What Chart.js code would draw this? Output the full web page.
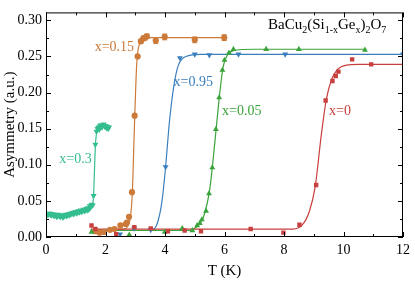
<!DOCTYPE html>
<html>
<head>
<meta charset="utf-8">
<script src="https://cdn.jsdelivr.net/npm/chart.js@4.4.0/dist/chart.umd.min.js"></script>
<style>
    html, body { margin: 0; padding: 0; background: #fff; }
    #wrap { width: 415px; height: 286px; }
</style>
</head>
<body>
<div id="wrap"><canvas id="chart"></canvas></div>
<script>
// data
const xTicks = [0, 2, 4, 6, 8, 10, 12];
const yTicks = [0, 0.05, 0.10, 0.15, 0.20, 0.25, 0.30];

const red0 = [[1.53, 0.016], [1.66, 0.011], [2.36, 0.004], [2.97, 0.0136], [3.52, 0.012], [4.1, 0.008], [4.66, 0.009], [5.21, 0.008], [6.88, 0.011], [7.98, 0.006], [8.52, 0.017], [9.08, 0.072], [9.4, 0.189], [9.63, 0.216], [9.74, 0.223], [9.83, 0.229], [10.29, 0.246], [10.93, 0.239]];
const red0Fit = [[1.5, 0.011], [8.3, 0.011], [8.6, 0.016], [8.85, 0.035], [9.05, 0.07], [9.25, 0.14], [9.42, 0.19], [9.6, 0.218], [9.8, 0.232], [10.1, 0.238], [10.5, 0.239], [12, 0.239]];

const green005 = [[1.53, 0.007], [2.8, 0.003], [3.99, 0.007], [4.58, 0.012], [4.92, 0.009], [5.08, 0.016], [5.17, 0.019], [5.24, 0.024], [5.38, 0.036], [5.48, 0.060], [5.59, 0.096], [5.71, 0.149], [5.82, 0.193], [5.93, 0.231], [6.0, 0.245], [6.15, 0.255], [6.3, 0.260], [7.4, 0.260], [8.5, 0.260], [10.72, 0.259]];
const green005Fit = [[1.5, 0.009], [4.8, 0.009], [5.0, 0.012], [5.2, 0.02], [5.35, 0.035], [5.5, 0.065], [5.6, 0.1], [5.72, 0.15], [5.83, 0.195], [5.95, 0.235], [6.1, 0.252], [6.3, 0.258], [7, 0.26], [10.72, 0.26]];

const orange015 = [[1.65, 0.008], [1.8, 0.006], [1.95, 0.007], [2.15, 0.010], [2.3, 0.011], [2.5, 0.016], [2.68, 0.018], [2.72, 0.020], [2.79, 0.028], [2.89, 0.062], [2.98, 0.168], [3.08, 0.250], [3.19, 0.271], [3.27, 0.275], [3.33, 0.276], [3.39, 0.278], [3.69, 0.272], [3.99, 0.277], [5.0, 0.273], [5.99, 0.276]];
const orange015Err = [0, 0, 0, 0, 0, 0, 0, 0, 0, 0, 0, 0, 0.003, 0.003, 0.003, 0.003, 0.004, 0.004, 0.004, 0.004];
const orange015Fit = [[1.6, 0.01], [2.6, 0.011], [2.8, 0.02], [2.9, 0.06], [2.97, 0.15], [3.05, 0.24], [3.15, 0.268], [3.3, 0.275], [3.6, 0.276], [6.0, 0.276]];

const blue095 = [[2.0, 0.008], [2.49, 0.004], [2.96, 0.012], [3.52, 0.010], [4.02, 0.097], [4.5, 0.248], [5.0, 0.253], [5.49, 0.252], [6.47, 0.253], [8.04, 0.253], [12.0, 0.253]];
const blue095Fit = [[1.95, 0.009], [3.55, 0.009], [3.75, 0.02], [3.9, 0.05], [4.02, 0.097], [4.15, 0.16], [4.3, 0.21], [4.45, 0.238], [4.7, 0.25], [5.2, 0.253], [12, 0.253]];

const teal03 = [[0.00, 0.031], [0.03, 0.030], [0.06, 0.032], [0.09, 0.031], [0.12, 0.033], [0.15, 0.031], [0.18, 0.030], [0.21, 0.032], [0.24, 0.031], [0.27, 0.029], [0.30, 0.031], [0.33, 0.030], [0.36, 0.028], [0.39, 0.029], [0.42, 0.031], [0.45, 0.029], [0.48, 0.028], [0.51, 0.030], [0.54, 0.029], [0.57, 0.027], [0.60, 0.030], [0.63, 0.029], [0.66, 0.031], [0.69, 0.029], [0.72, 0.030], [0.75, 0.032], [0.78, 0.030], [0.81, 0.031], [0.84, 0.033], [0.87, 0.032], [0.90, 0.034], [0.93, 0.032], [0.96, 0.033], [0.99, 0.035], [1.02, 0.033], [1.05, 0.034], [1.08, 0.036], [1.11, 0.034], [1.14, 0.035], [1.17, 0.037], [1.20, 0.035], [1.23, 0.036], [1.26, 0.038], [1.29, 0.036], [1.32, 0.037], [1.35, 0.039], [1.38, 0.037], [1.41, 0.040], [1.44, 0.038], [1.47, 0.043], [1.50, 0.041], [1.53, 0.045], [1.57, 0.044], [1.60, 0.057], [1.66, 0.128], [1.70, 0.146], [1.73, 0.150], [1.76, 0.152], [1.79, 0.149], [1.82, 0.154], [1.85, 0.155], [1.88, 0.152], [1.91, 0.154], [1.94, 0.156], [1.97, 0.153], [2.00, 0.154], [2.03, 0.151], [2.06, 0.153], [2.09, 0.150], [2.12, 0.152]];

const seriesLabels = ['x=0', 'x=0.05', 'x=0.15', 'x=0.95', 'x=0.3'];
const labelPos = [[9.88, 0.174], [6.58, 0.174], [2.3, 0.263], [4.95, 0.2145], [0.99, 0.107]];

const RED = '#c7403d';
const GREEN = '#3aa33a';
const ORANGE = '#cc7a3a';
const BLUE = '#3a7fbd';
const TEAL = '#35bd8e';
const labelColors = [RED, GREEN, ORANGE, BLUE, TEAL];

const SERIF = "'Liberation Serif', 'Times New Roman', serif";

const toXY = arr => arr.map(p => ({x: p[0], y: p[1]}));

const pointSet = (data, color, style, radius, flip) => ({
    data: toXY(data),
    showLine: false,
    pointStyle: style,
    pointRadius: radius,
    pointRotation: flip ? 180 : 0,
    backgroundColor: color,
    borderColor: color,
    borderWidth: 0,
    order: 1
});

const fitSet = (data, color) => ({
    data: toXY(data),
    showLine: true,
    pointRadius: 0,
    borderColor: color,
    borderWidth: 1.2,
    cubicInterpolationMode: 'monotone',
    order: 2
});

// error bars + frame with inward ticks + title + labels
const decorPlugin = {
    id: 'decorPlugin',
    afterDatasetsDraw(chart) {
        const ctx = chart.ctx;
        const xs = chart.scales.x;
        const ys = chart.scales.y;
        ctx.save();
        ctx.strokeStyle = ORANGE;
        ctx.lineWidth = 1;
        orange015.forEach((p, i) => {
            const e = orange015Err[i];
            if (!e) return;
            const px = xs.getPixelForValue(p[0]);
            const top = ys.getPixelForValue(p[1] + e);
            const bot = ys.getPixelForValue(p[1] - e);
            ctx.beginPath();
            ctx.moveTo(px, top); ctx.lineTo(px, bot);
            ctx.moveTo(px - 2.5, top); ctx.lineTo(px + 2.5, top);
            ctx.moveTo(px - 2.5, bot); ctx.lineTo(px + 2.5, bot);
            ctx.stroke();
        });
        ctx.restore();
    },
    afterDraw(chart) {
        const ctx = chart.ctx;
        const a = chart.chartArea;
        const xs = chart.scales.x;
        const ys = chart.scales.y;
        ctx.save();
        ctx.strokeStyle = '#000';
        ctx.lineWidth = 1;
        ctx.strokeRect(a.left + 0.5, a.top + 0.5, a.right - a.left - 1, a.bottom - a.top - 1);

        ctx.beginPath();
        for (let v = 0; v <= 12; v += 1) {
            const px = Math.round(xs.getPixelForValue(v)) + 0.5;
            const len = v % 2 === 0 ? 5 : 3;
            ctx.moveTo(px, a.bottom); ctx.lineTo(px, a.bottom - len);
            ctx.moveTo(px, a.top); ctx.lineTo(px, a.top + len);
        }
        for (let k = 0; k <= 12; k++) {
            const v = k * 0.025;
            const py = Math.round(ys.getPixelForValue(v)) + 0.5;
            const len = k % 2 === 0 ? 5 : 3;
            ctx.moveTo(a.left, py); ctx.lineTo(a.left + len, py);
            ctx.moveTo(a.right, py); ctx.lineTo(a.right - len, py);
        }
        ctx.stroke();

        // series labels
        ctx.font = '14px ' + SERIF;
        ctx.textAlign = 'center';
        ctx.textBaseline = 'middle';
        seriesLabels.forEach((t, i) => {
            ctx.fillStyle = labelColors[i];
            ctx.fillText(t, xs.getPixelForValue(labelPos[i][0]), ys.getPixelForValue(labelPos[i][1]));
        });

        // compound formula
        const parts = [['BaCu', 0], ['2', 1], ['(Si', 0], ['1-x', 1], ['Ge', 0], ['x', 1], [')', 0], ['2', 1], ['O', 0], ['7', 1]];
        let x = 268;
        const base = 29;
        ctx.fillStyle = '#000';
        ctx.textAlign = 'left';
        ctx.textBaseline = 'alphabetic';
        parts.forEach(([t, sub]) => {
            ctx.font = (sub ? '10px ' : '15px ') + SERIF;
            ctx.fillText(t, x, sub ? base + 4 : base);
            x += ctx.measureText(t).width;
        });
        ctx.restore();
    }
};

new Chart(document.getElementById('chart'), {
    type: 'scatter',
    data: {
        datasets: [
            {...pointSet(teal03, TEAL, 'triangle', 2.3, true), showLine: true, borderWidth: 1.2, order: 3},
            pointSet(red0, RED, 'rect', 3.1, false),
            pointSet(green005, GREEN, 'triangle', 3.4, false),
            pointSet(orange015, ORANGE, 'circle', 3.1, false),
            pointSet(blue095, BLUE, 'triangle', 3.4, true),
            fitSet(red0Fit, RED),
            fitSet(green005Fit, GREEN),
            fitSet(orange015Fit, ORANGE),
            fitSet(blue095Fit, BLUE)
        ]
    },
    options: {
        responsive: true,
        maintainAspectRatio: false,
        animation: false,
        layout: {padding: {top: 8, right: 9, left: 0, bottom: 0}},
        plugins: {
            legend: {display: false},
            tooltip: {enabled: false}
        },
        scales: {
            x: {
                type: 'linear',
                min: 0,
                max: 12,
                afterBuildTicks: s => { s.ticks = xTicks.map(v => ({value: v})); },
                afterFit: s => { s.height = 49; },
                grid: {display: false, drawTicks: false},
                border: {display: false},
                ticks: {
                    color: '#000',
                    padding: 5,
                    font: {family: SERIF, size: 14},
                    callback: v => String(v)
                },
                title: {
                    display: true,
                    text: 'T (K)',
                    color: '#000',
                    font: {family: SERIF, size: 15},
                    padding: {top: 0, bottom: 6}
                }
            },
            y: {
                type: 'linear',
                min: 0,
                max: 0.311,
                afterBuildTicks: s => { s.ticks = yTicks.map(v => ({value: v})); },
                afterFit: s => { s.width = 46; },
                grid: {display: false, drawTicks: false},
                border: {display: false},
                ticks: {
                    color: '#000',
                    padding: 4,
                    font: {family: SERIF, size: 14},
                    callback: v => Number(v).toFixed(2)
                },
                title: {
                    display: true,
                    text: 'Asymmetry (a.u.)',
                    color: '#000',
                    font: {family: SERIF, size: 15},
                    padding: {top: 1, bottom: 0}
                }
            }
        }
    },
    plugins: [decorPlugin]
});
</script>
</body>
</html>
